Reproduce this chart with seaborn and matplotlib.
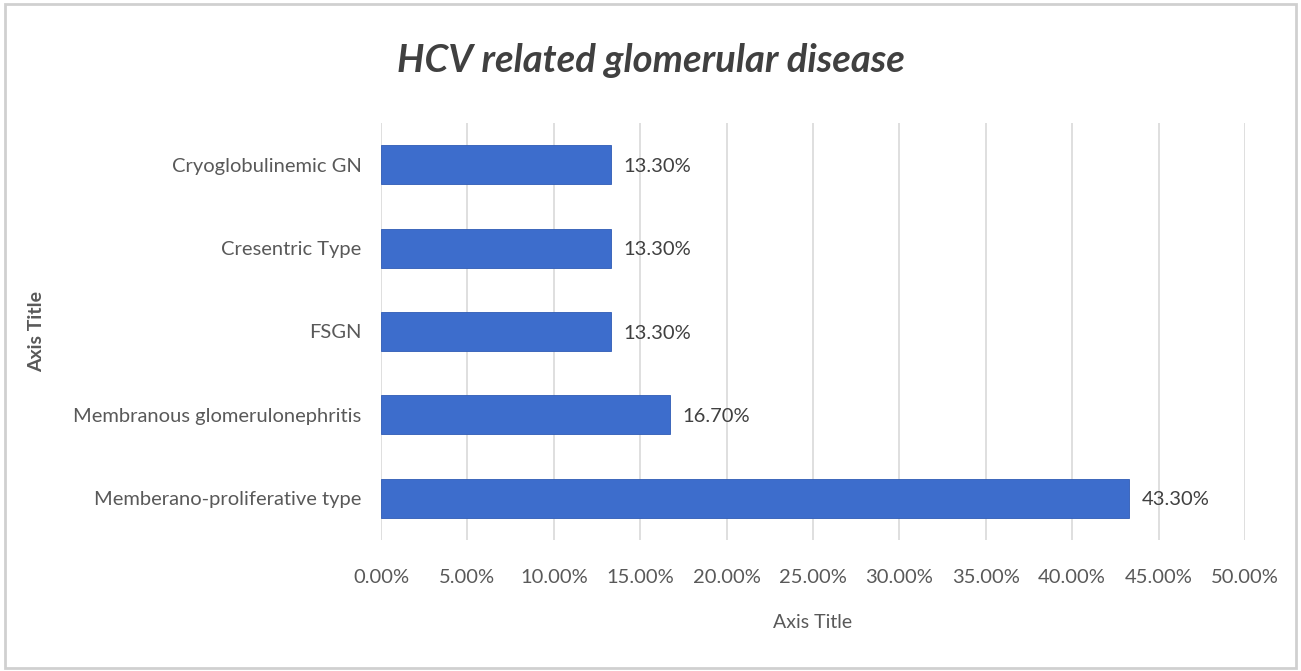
import matplotlib
matplotlib.use("Agg")
import matplotlib.pyplot as plt
import matplotlib.patches as mpatches
import seaborn as sns
import pandas as pd

categories = ['Cryoglobulinemic GN', 'Cresentric Type', 'FSGN',
              'Membranous glomerulonephritis', 'Memberano-proliferative type']
values = [13.3, 13.3, 13.3, 16.7, 43.3]
tick_vals = [0, 5, 10, 15, 20, 25, 30, 35, 40, 45, 50]

df = pd.DataFrame({'type': categories, 'pct': values})

sns.set_theme(style='white')
plt.rcParams['font.family'] = ['Lato', 'DejaVu Sans']

fig = plt.figure(figsize=(13.01, 6.71), dpi=100)
ax = fig.add_axes([381 / 1301, 1 - 540 / 671, (1245 - 381) / 1301, (540 - 123) / 671])

sns.barplot(data=df, y='type', x='pct', order=categories, color='#3D6DCC',
            width=0.47, saturation=1, ax=ax, zorder=3)

for p in ax.patches:
    p.set_edgecolor('#2F5BB5')
    p.set_linewidth(0.6)

# value labels
for i, v in enumerate(values):
    ax.text(v + 0.75, i + 0.02, f'{v:.2f}%', va='center', ha='left',
            fontsize=14.5, color='#404040')

ax.set_xlim(0, 50)
ax.set_ylim(len(categories) - 0.5, -0.5)
ax.set_xticks(tick_vals)
ax.set_xticklabels([f'{t:.2f}%' for t in tick_vals])
ax.grid(axis='x', color='#D9D9D9', linewidth=1.2, zorder=0)
ax.grid(axis='y', visible=False)
for s in ax.spines.values():
    s.set_visible(False)
ax.tick_params(axis='both', length=0, labelsize=14.5, colors='#595959')
ax.tick_params(axis='x', pad=21)
ax.tick_params(axis='y', pad=14)

ax.set_xlabel('Axis Title', fontsize=14, color='#595959', labelpad=20)
ax.set_ylabel('Axis Title', fontsize=14, color='#595959', fontweight='bold')
ax.yaxis.set_label_coords((45 - 381) / (1245 - 381), 0.5)

fig.text(0.5, 1 - 60 / 671, 'HCV related glomerular disease', ha='center', va='center',
         fontsize=27.5, fontweight='bold', fontstyle='italic', color='#404040')

# outer frame
fig.patches.append(mpatches.Rectangle((0.004, 0.004), 0.992, 0.99, transform=fig.transFigure,
                                      fill=False, edgecolor='#D0D0D0', linewidth=2))

fig.savefig('out.png', dpi=100)
